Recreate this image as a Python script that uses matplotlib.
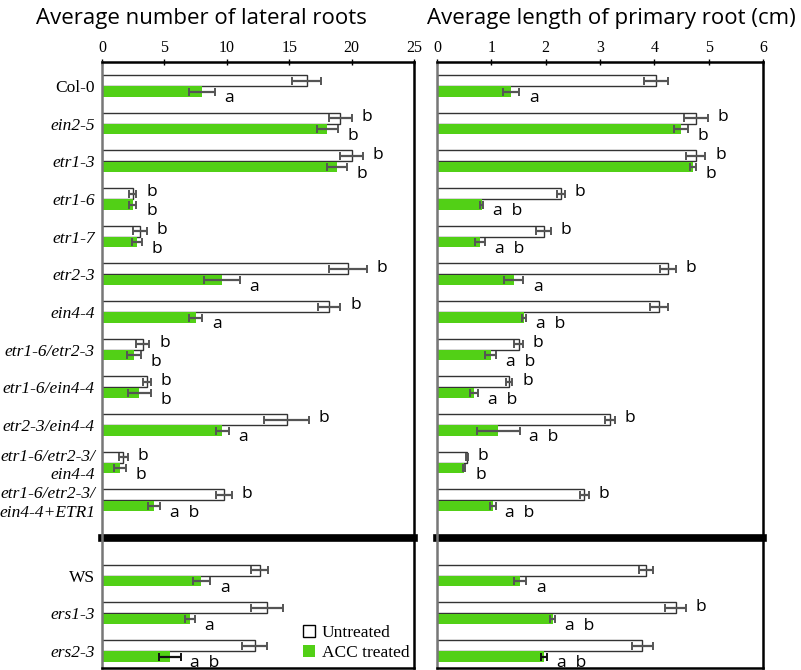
import numpy as np
import matplotlib.pyplot as plt
from matplotlib.patches import Patch

# genotypes, top block then WS block (row 12 is the break)
genotypes = ['Col-0', 'ein2-5', 'etr1-3', 'etr1-6', 'etr1-7', 'etr2-3', 'ein4-4',
             'etr1-6/etr2-3', 'etr1-6/ein4-4', 'etr2-3/ein4-4',
             'etr1-6/etr2-3/\nein4-4', 'etr1-6/etr2-3/\nein4-4+ETR1',
             'WS', 'ers1-3', 'ers2-3']
upright = ['Col-0', 'WS']
rows = [0, 1, 2, 3, 4, 5, 6, 7, 8, 9, 10, 11, 13, 14, 15]

# lateral roots (count)
lat_untreated = [16.4, 19.1, 20.0, 2.45, 3.05, 19.7, 18.2, 3.25, 3.6, 14.8, 1.7, 9.75, 12.65, 13.25, 12.25]
lat_untreated_err = [1.15, 0.9, 0.9, 0.3, 0.55, 1.5, 0.9, 0.55, 0.3, 1.8, 0.37, 0.65, 0.67, 1.27, 1.0]
lat_acc = [8.0, 18.05, 18.8, 2.45, 2.8, 9.6, 7.5, 2.55, 3.0, 9.65, 1.45, 4.15, 7.97, 7.05, 5.45]
lat_acc_err = [1.05, 0.85, 0.8, 0.3, 0.4, 1.45, 0.55, 0.55, 0.95, 0.5, 0.45, 0.5, 0.7, 0.4, 0.85]
lat_untreated_sig = ['', 'b', 'b', 'b', 'b', 'b', 'b', 'b', 'b', 'b', 'b', 'b', '', '', '']
lat_acc_sig = ['a', 'b', 'b', 'b', 'b', 'a', 'a', 'b', 'b', 'a', 'b', 'a  b', 'a', 'a', 'a  b']

# primary root length (cm)
len_untreated = [4.03, 4.76, 4.76, 2.28, 1.96, 4.25, 4.09, 1.5, 1.33, 3.19, 0.55, 2.71, 3.85, 4.39, 3.78]
len_untreated_err = [0.22, 0.22, 0.18, 0.07, 0.13, 0.15, 0.17, 0.08, 0.055, 0.09, 0.02, 0.08, 0.13, 0.19, 0.19]
len_acc = [1.36, 4.49, 4.71, 0.82, 0.79, 1.41, 1.6, 0.99, 0.68, 1.13, 0.5, 1.03, 1.53, 2.13, 1.97]
len_acc_err = [0.15, 0.13, 0.05, 0.03, 0.09, 0.18, 0.04, 0.1, 0.077, 0.39, 0.02, 0.05, 0.11, 0.05, 0.06]
len_untreated_sig = ['', 'b', 'b', 'b', 'b', 'b', '', 'b', 'b', 'b', 'b', 'b', '', 'b', '']
len_acc_sig = ['a', 'b', 'b', 'a  b', 'a  b', 'a', 'a  b', 'a  b', 'a  b', 'a  b', 'b', 'a  b', 'a', 'a  b', 'a  b']

GREEN = '#52d016'
ERR = '#555555'
plt.rcParams['font.family'] = ['Liberation Serif', 'DejaVu Serif']


def draw_panel(ax, unt, unt_err, acc, acc_err, unt_sig, acc_sig, xmax, step):
    y = np.array(rows, dtype=float)
    h = 0.29
    ax.barh(y - h / 2, unt, height=h, color='white', edgecolor='#333333', linewidth=1.0)
    ax.barh(y + h / 2, acc, height=h * 0.93, color=GREEN, edgecolor='none')
    ax.errorbar(unt, y - h / 2, xerr=unt_err, fmt='none', ecolor=ERR, elinewidth=1.6, capsize=3, capthick=1.4)
    acc_colors = [ERR] * (len(acc) - 1) + ['#111111']
    for i in range(len(acc)):
        ax.errorbar(acc[i], y[i] + h / 2, xerr=acc_err[i], fmt='none', ecolor=acc_colors[i],
                    elinewidth=1.6, capsize=3, capthick=1.4)
    for i in range(len(unt)):
        if unt_sig[i]:
            ax.annotate(unt_sig[i], (unt[i] + unt_err[i], y[i] - h / 2), xytext=(7, 1),
                        textcoords='offset points', ha='left', va='center',
                        family='Open Sans', fontsize=12.5)
        if acc_sig[i]:
            ax.annotate(acc_sig[i], (acc[i] + acc_err[i], y[i] + h / 2), xytext=(7, -5),
                        textcoords='offset points', ha='left', va='center',
                        family='Open Sans', fontsize=12.5)
    ax.set_xlim(0, xmax)
    ax.set_ylim(15.45, -0.64)
    ax.set_xticks(np.arange(0, xmax + 0.01, step))
    ax.xaxis.tick_top()
    ax.tick_params(axis='x', direction='inout', length=5, width=1, labelsize=11.5, pad=2)
    ax.tick_params(axis='y', length=0)
    for s in ['top', 'right', 'bottom']:
        ax.spines[s].set_linewidth(1.8)
        ax.spines[s].set_color('black')
    ax.spines['left'].set_linewidth(1.8)
    ax.spines['left'].set_color('#777777')
    # break between the two blocks
    ax.axhline(12.0, color='black', linewidth=5.5, clip_on=False)


fig = plt.figure(figsize=(8.01, 6.70), dpi=100)
ax1 = fig.add_axes([0.1273, 0.003, 0.3895, 0.9045])
ax2 = fig.add_axes([0.5456, 0.003, 0.4070, 0.9045])

draw_panel(ax1, lat_untreated, lat_untreated_err, lat_acc, lat_acc_err,
           lat_untreated_sig, lat_acc_sig, 25, 5)
draw_panel(ax2, len_untreated, len_untreated_err, len_acc, len_acc_err,
           len_untreated_sig, len_acc_sig, 6, 1)

ax1.set_yticks(rows)
ax1.set_yticklabels(genotypes, fontsize=12.5, ha='right', multialignment='right')
ax1.tick_params(axis='y', pad=5)
for lab in ax1.get_yticklabels():
    if lab.get_text() not in upright:
        lab.set_style('italic')
ax2.set_yticks([])

ax1.legend(handles=[Patch(facecolor='white', edgecolor='black', linewidth=1.0),
                    Patch(facecolor=GREEN, edgecolor='none')],
           labels=['Untreated', 'ACC treated'], loc='lower right',
           bbox_to_anchor=(1.035, -0.015), frameon=False, fontsize=12.5,
           handlelength=0.7, handleheight=0.7, handletextpad=0.4, labelspacing=0.25)

fig.text(0.252, 0.972, 'Average number of lateral roots', ha='center', va='center',
         family='Open Sans', fontsize=16)
fig.text(0.763, 0.972, 'Average length of primary root (cm)', ha='center', va='center',
         family='Open Sans', fontsize=16)

fig.savefig('out.png', dpi=100)
